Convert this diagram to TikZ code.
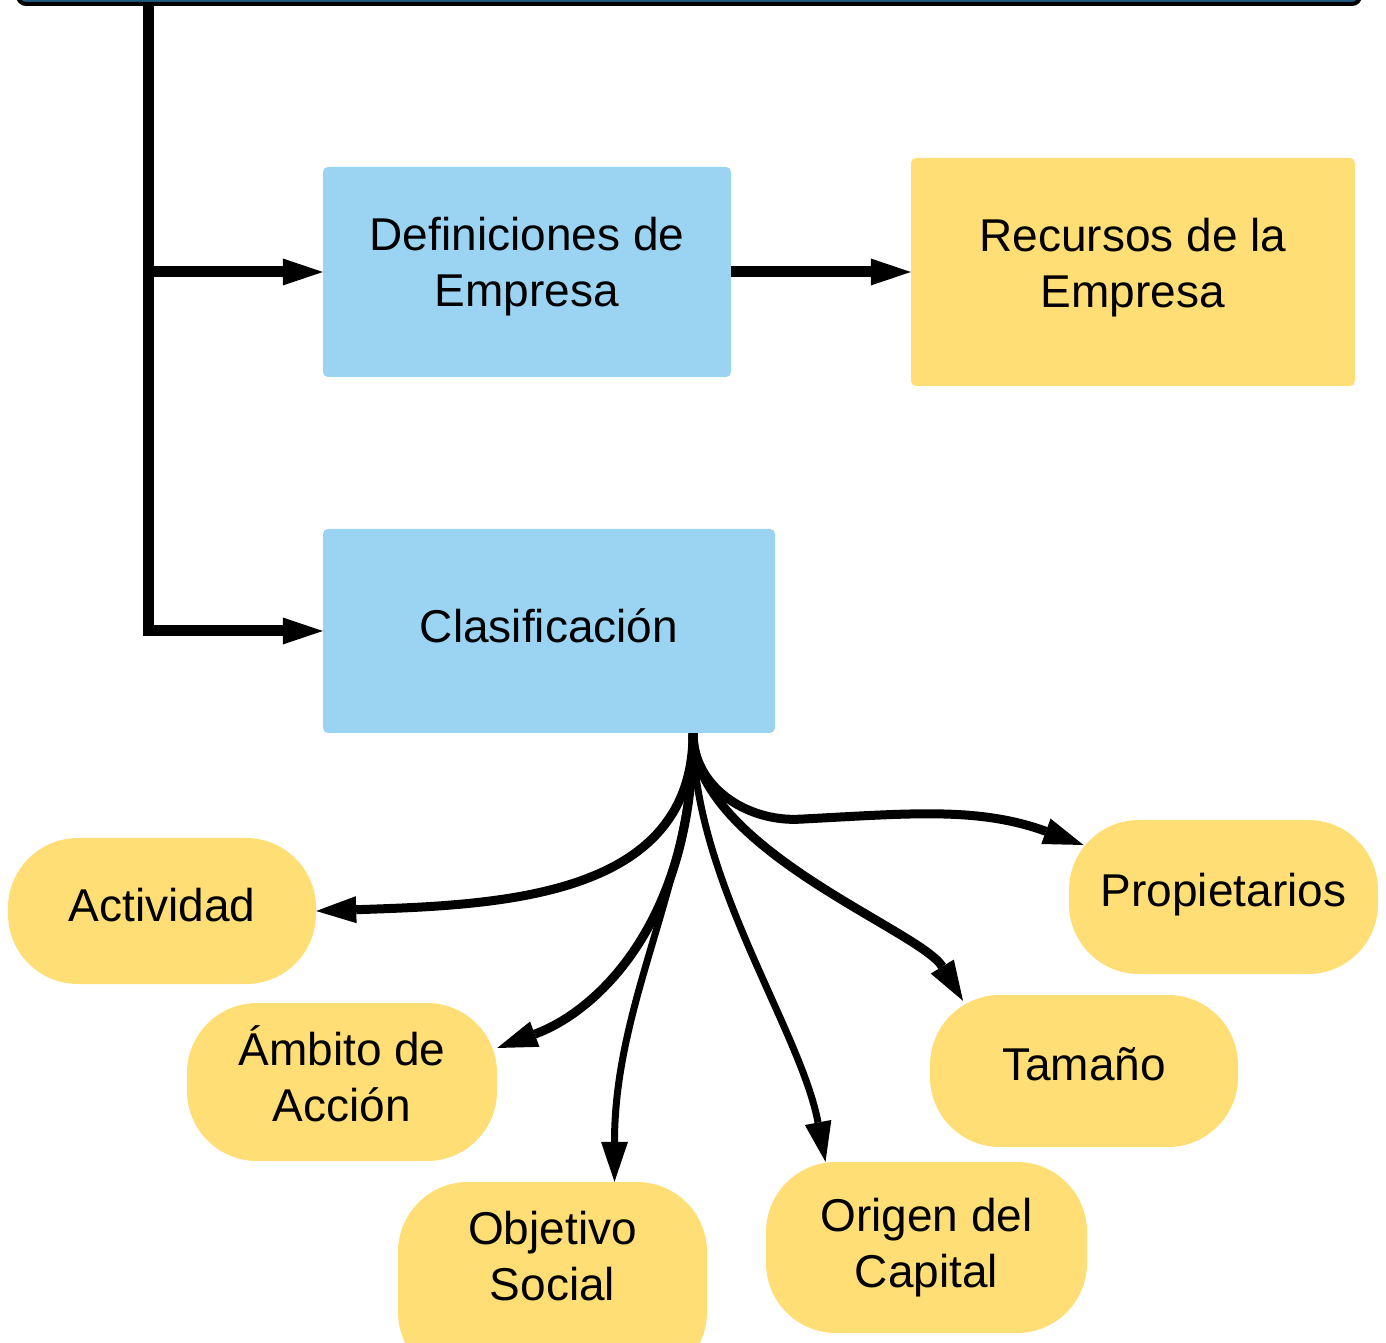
\documentclass[tikz,border=0pt]{standalone}
\usepackage{fontspec}
\setmainfont{Liberation Sans}
\usetikzlibrary{arrows.meta, positioning}
\definecolor{skyfill}{HTML}{9BD3F3}
\definecolor{sunfill}{HTML}{FFDE75}
\definecolor{barfill}{HTML}{1F5C84}
% text of a box, first baseline lifted by #1 above the box centre
\newcommand\nodetext[2]{\raisebox{#1}[0pt][0pt]{\begin{tabular}[t]{@{}c@{}}#2\end{tabular}}}

\begin{document}
\begin{tikzpicture}[x=1pt, y=1pt,
    every node/.style={font=\fontsize{46}{56}\selectfont, inner sep=0pt},
    bluebox/.style={fill=skyfill, rounded corners=5pt},
    yellowbox/.style={fill=sunfill, rounded corners=5pt},
    pill/.style={fill=sunfill, rounded corners=70pt},
    link/.style={line width=11pt, -{Triangle[length=40pt, width=27pt, line width=0pt]}},
    branch/.style={line width=9pt, -{Triangle[length=40pt, width=27pt, line width=0pt]}}]

    \useasboundingbox (0,0) rectangle (1386,1342);

    \node [fill=barfill, draw=black, line width=4pt, rounded corners=8pt,
           minimum width=1342pt, minimum height=44pt] (banner) at (689,1360) {};

    \node [bluebox, minimum width=408pt, minimum height=210pt] (def) at (527,1070) {\nodetext{21pt}{Definiciones de\\Empresa}};
    \node [yellowbox, minimum width=444pt, minimum height=228pt] (rec) at (1133,1070) {\nodetext{20pt}{Recursos de la\\Empresa}};
    \node [bluebox, minimum width=452pt, minimum height=204pt] (clas) at (549,711) {\nodetext{-12pt}{Clasificación}};
    \node [pill, minimum width=308pt, minimum height=146pt] (act) at (162,431) {\nodetext{-10pt}{Actividad}};
    \node [pill, minimum width=310pt, minimum height=158pt] (amb) at (342,260) {\nodetext{17pt}{Ámbito de\\Acción}};
    \node [pill, minimum width=309pt, minimum height=200pt] (obj) at (552.5,60) {\nodetext{38pt}{Objetivo\\Social}};
    \node [pill, minimum width=321pt, minimum height=171pt] (ori) at (926.5,94.5) {\nodetext{16pt}{Origen del\\Capital}};
    \node [pill, minimum width=308pt, minimum height=152pt] (tam) at (1084,271) {\nodetext{-9pt}{Tamaño}};
    \node [pill, minimum width=309pt, minimum height=154pt] (pro) at (1223.5,445) {\nodetext{-10pt}{Propietarios}};

    \coordinate (trunk) at (148,1338);
    \coordinate (hub) at ([xshift=144pt]clas.south);

    \draw [link] (trunk) |- (clas.west);
    \draw [link] (trunk |- def.west) -- (def.west);
    \draw [link] (def) -- (rec);

    % branches of the classification
    \draw [branch] (hub) .. controls +(0,-165) and +(184,6) .. (act.east);
    \draw [branch] (hub) .. controls +(0,-185) and +(103,38) .. ([yshift=34pt]amb.east);
    \draw [branch, line width=7pt] (hub) .. controls +(0,-145) and +(0,182) .. ([xshift=62pt]obj.north);
    \draw [branch, line width=7pt] (hub) .. controls +(0,-145) and +(-25,132) .. ([xshift=-101pt]ori.north);
    \draw [branch] (hub) .. controls +(0,-115) and +(-43,71) .. ([xshift=-121pt,yshift=-6pt]tam.north);
    \draw [branch] (hub) to[out=-90, in=183] +(107,-86)
                         to[out=3, in=160] ([xshift=-140pt,yshift=52pt]pro.center);
\end{tikzpicture}
\end{document}
